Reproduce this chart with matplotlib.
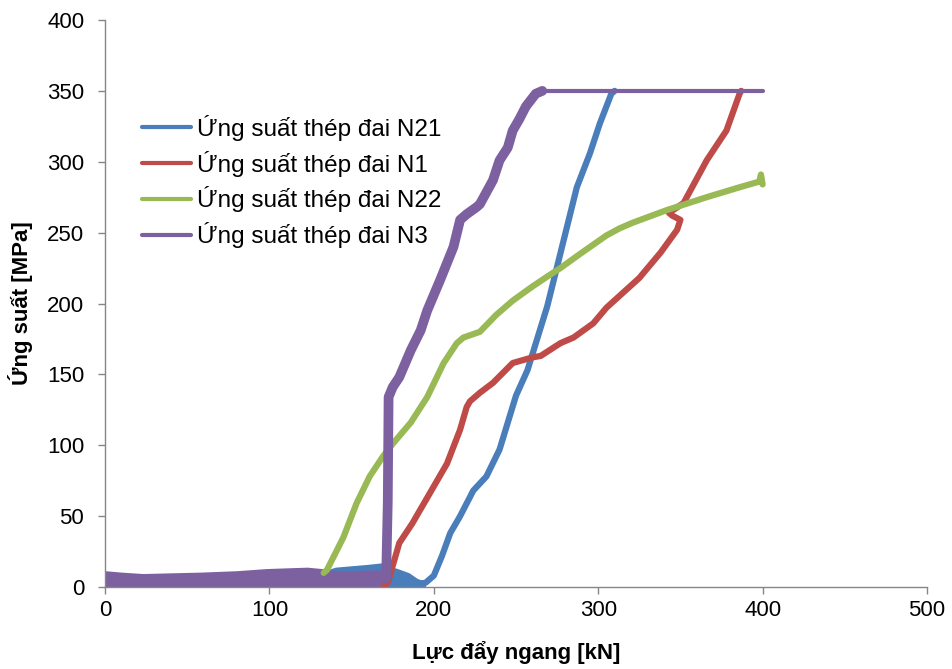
import matplotlib.pyplot as plt

plt.rcParams['font.family'] = ['Liberation Sans', 'DejaVu Sans']

# Values (x = lateral force kN, y = stress MPa)
# noisy flat part at the start, drawn as a band from 0 up to its top edge
n21_base_x = [130, 140, 150, 160, 168, 172, 178, 185, 190, 195]
n21_base_top = [10, 14, 15, 16, 17, 15, 13, 10, 6, 4]
n21_x = [190, 195, 200, 205, 210, 216, 224, 232, 240, 250, 257, 265, 269, 275, 281, 287, 295, 301, 308, 310]
n21_y = [2, 3, 8, 22, 38, 50, 68, 78, 97, 135, 153, 183, 198, 226, 254, 282, 306, 327, 348, 350]

n1_x = [170, 172, 179, 187, 200, 208, 216, 220, 222, 228, 236, 248, 260, 265, 277, 285, 297, 305,
        325, 338, 348, 350, 345, 343, 347, 352, 366, 378, 386, 387]
n1_y = [1, 3, 31, 45, 71, 87, 111, 127, 131, 137, 144, 158, 162, 163, 172, 176, 186, 197,
        218, 236, 252, 259, 262, 264, 267, 271, 301, 322, 348, 350]

n22_x = [133, 135, 145, 153, 161, 169, 175, 186, 196, 206, 214, 218, 228, 238, 248, 260, 269, 277,
         289, 305, 313, 321, 342, 366, 386, 398, 399, 400]
n22_y = [10, 12, 35, 59, 78, 92, 101, 116, 134, 158, 172, 176, 180, 192, 202, 212, 219, 225,
         235, 248, 253, 257, 266, 275, 282, 286, 291, 284]

n3_base_x = [0, 10, 23, 40, 58, 80, 98, 110, 123, 132, 140, 150, 160, 171]
n3_base_top = [11.5, 10.5, 9.5, 10, 10.5, 11.5, 13, 13.5, 14, 13, 11.5, 11.5, 12, 12]
n3_x = [171, 172, 172.5, 175, 179, 186, 192, 196, 204, 212, 216, 220, 226, 228, 236, 240, 245,
        248, 252, 256, 262, 266]
n3_y = [6, 60, 134, 141, 148, 167, 181, 195, 217, 240, 259, 263, 268, 270, 287, 301, 310,
        322, 330, 339, 348, 350]
n3_flat_x = [266, 400]
n3_flat_y = [350, 350]

labels = ['Ứng suất thép đai N21', 'Ứng suất thép đai N1',
          'Ứng suất thép đai N22', 'Ứng suất thép đai N3']
colors = ['#4A7EBB', '#BE4B48', '#98B954', '#7D60A0']

fig = plt.figure(figsize=(9.52, 6.69), dpi=100)
ax = fig.add_axes([105 / 952, 1 - 587 / 669, 822 / 952, 567 / 669])

# N21
ax.fill_between(n21_base_x, 0, n21_base_top, color=colors[0], lw=0)
ax.plot(n21_x, n21_y, color=colors[0], lw=4.5, label=labels[0], solid_capstyle='round')
# N1
ax.plot(n1_x, n1_y, color=colors[1], lw=4.5, label=labels[1], solid_capstyle='round')
# N22
ax.plot(n22_x, n22_y, color=colors[2], lw=4.5, label=labels[2], solid_capstyle='round')
# N3 (on top)
ax.fill_between(n3_base_x, 0, n3_base_top, color=colors[3], lw=0)
ax.plot(n3_x, n3_y, color=colors[3], lw=7, solid_capstyle='round')
ax.plot(n3_flat_x, n3_flat_y, color=colors[3], lw=3, label=labels[3], solid_capstyle='round')

ax.set_xlim(0, 500)
ax.set_ylim(0, 400)
ax.set_xticks([0, 100, 200, 300, 400, 500])
ax.set_yticks(range(0, 401, 50))

for s in ['top', 'right']:
    ax.spines[s].set_visible(False)
for s in ['left', 'bottom']:
    ax.spines[s].set_color('#868686')
    ax.spines[s].set_linewidth(1)
ax.tick_params(axis='both', colors='#868686', labelcolor='black', labelsize=16,
               length=5, width=1, direction='out')
ax.tick_params(axis='y', pad=10)
ax.tick_params(axis='x', pad=4)

ax.set_xlabel('Lực đẩy ngang [kN]', fontsize=16, fontweight='bold', labelpad=15)
ax.set_ylabel('Ứng suất [MPa]', fontsize=16, fontweight='bold', labelpad=10)

handles, lbls = ax.get_legend_handles_labels()
order = [lbls.index(l) for l in labels]
leg = ax.legend([handles[i] for i in order], labels, loc='upper left',
                bbox_to_anchor=(142 / 952, 1 - 115 / 669), bbox_transform=fig.transFigure,
                frameon=False, fontsize=17.5, handlelength=2.0, handletextpad=0.25,
                labelspacing=0.4, borderpad=0, borderaxespad=0)
for h in leg.get_lines():
    h.set_linewidth(3)

fig.savefig('out.png', dpi=100)
